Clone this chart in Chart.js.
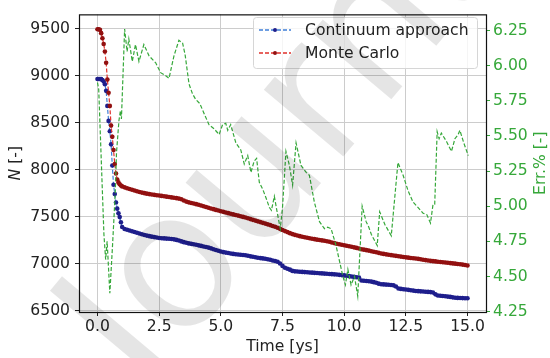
<!DOCTYPE html>
<html>
<head>
<meta charset="utf-8">
<script src="https://cdn.jsdelivr.net/npm/chart.js@4.4.0/dist/chart.umd.min.js"></script>
<style>
    body { margin: 0; background: #fff; }
    canvas { display: block; }
</style>
</head>
<body>
<canvas id="grafico" width="550" height="358"></canvas>
<script>
// -------------------------------
// Datos
// -------------------------------
const tiempo = [
    0, 0.05, 0.1, 0.15, 0.2, 0.25, 0.3, 0.35, 0.4, 0.45,
    0.5, 0.55, 0.6, 0.65, 0.7, 0.75, 0.8, 0.85, 0.9, 0.95, 1.0,
    1.1, 1.2, 1.3, 1.4, 1.5, 1.6, 1.7, 1.8, 1.9, 2.0,
    2.1, 2.2, 2.3, 2.4, 2.5, 2.6, 2.7, 2.8, 2.9, 3.0,
    3.1, 3.2, 3.3, 3.4, 3.5, 3.6, 3.7, 3.8, 3.9, 4.0,
    4.1, 4.2, 4.3, 4.4, 4.5, 4.6, 4.7, 4.8, 4.9, 5.0,
    5.1, 5.2, 5.3, 5.4, 5.5, 5.6, 5.7, 5.8, 5.9, 6.0,
    6.1, 6.2, 6.3, 6.4, 6.5, 6.6, 6.7, 6.8, 6.9, 7.0,
    7.1, 7.2, 7.3, 7.4, 7.5, 7.6, 7.7, 7.8, 7.9, 8.0,
    8.1, 8.2, 8.3, 8.4, 8.5, 8.6, 8.7, 8.8, 8.9, 9.0,
    9.1, 9.2, 9.3, 9.4, 9.5, 9.6, 9.7, 9.8, 9.9, 10.0,
    10.1, 10.2, 10.3, 10.4, 10.5, 10.6, 10.7, 10.8, 10.9, 11.0,
    11.1, 11.2, 11.3, 11.4, 11.5, 11.6, 11.7, 11.8, 11.9, 12.0,
    12.1, 12.2, 12.3, 12.4, 12.5, 12.6, 12.7, 12.8, 12.9, 13.0,
    13.1, 13.2, 13.3, 13.4, 13.5, 13.6, 13.7, 13.8, 13.9, 14.0,
    14.1, 14.2, 14.3, 14.4, 14.5, 14.6, 14.7, 14.8, 14.9, 15.0
];

const continuo = [
    8966, 8966, 8966, 8965, 8955, 8940, 8910, 8840, 8680, 8520,
    8410, 8270, 8045, 7840, 7740, 7650, 7585, 7535, 7495, 7440, 7390,
    7368, 7360, 7352, 7344, 7336, 7328, 7320, 7312, 7305, 7298,
    7292, 7287, 7282, 7277, 7273, 7270, 7268, 7266, 7264, 7262,
    7258, 7252, 7245, 7236, 7228, 7221, 7215, 7210, 7205, 7200,
    7194, 7188, 7182, 7176, 7170, 7162, 7153, 7144, 7136, 7128,
    7122, 7117, 7112, 7107, 7103, 7100, 7097, 7094, 7091, 7088,
    7083, 7077, 7072, 7067, 7062, 7058, 7055, 7052, 7046, 7040,
    7033, 7028, 7020, 7000, 6975, 6955, 6945, 6935, 6922, 6917,
    6915, 6913, 6911, 6909, 6907, 6905, 6903, 6901, 6899, 6897,
    6895, 6893, 6891, 6889, 6887, 6885, 6883, 6880, 6877, 6874,
    6870, 6866, 6862, 6858, 6855, 6852, 6820, 6817, 6814, 6811,
    6808, 6802, 6795, 6786, 6780, 6778, 6776, 6774, 6772, 6768,
    6755, 6735, 6730, 6727, 6724, 6720, 6716, 6712, 6708, 6706,
    6704, 6702, 6700, 6698, 6696, 6692, 6672, 6660, 6657, 6654,
    6651, 6648, 6645, 6640, 6636, 6634, 6633, 6632, 6631, 6630
];

const monteCarlo = [
    9497, 9497, 9490, 9455, 9400, 9340, 9260, 9140, 8960, 8820,
    8680, 8470, 8350, 8210, 8060, 7960, 7895, 7865, 7845, 7832, 7822,
    7812, 7803, 7795, 7786, 7778, 7770, 7762, 7756, 7750, 7745,
    7740, 7736, 7732, 7728, 7725, 7721, 7717, 7713, 7709, 7705,
    7701, 7697, 7692, 7685, 7672, 7660, 7652, 7646, 7640, 7633,
    7626, 7618, 7610, 7602, 7595, 7587, 7580, 7572, 7565, 7558,
    7551, 7544, 7537, 7531, 7524, 7518, 7511, 7504, 7497, 7490,
    7482, 7474, 7466, 7458, 7450, 7442, 7434, 7426, 7418, 7410,
    7401, 7392, 7382, 7370, 7358, 7346, 7335, 7324, 7314, 7306,
    7299, 7292, 7286, 7280, 7275, 7270, 7265, 7260, 7255, 7251,
    7247, 7243, 7238, 7232, 7225, 7218, 7211, 7205, 7200, 7195,
    7190, 7185, 7179, 7173, 7167, 7160, 7153, 7148, 7143, 7138,
    7132, 7126, 7120, 7114, 7108, 7103, 7098, 7094, 7090, 7086,
    7082, 7078, 7074, 7070, 7066, 7063, 7060, 7057, 7054, 7050,
    7046, 7041, 7037, 7033, 7029, 7026, 7023, 7020, 7017, 7014,
    7011, 7008, 7005, 7002, 6999, 6996, 6993, 6989, 6985, 6979
];

const tiempoErr = [
    0, 0.05, 0.26, 0.33, 0.39, 0.45, 0.5, 0.6, 0.66, 0.72,
    0.77, 0.87, 0.93, 0.97, 1.1, 1.2, 1.27, 1.41, 1.54, 1.68,
    1.88, 2.09, 2.36, 2.56, 2.75, 2.9, 3.1, 3.3, 3.45, 3.55,
    3.71, 3.85, 3.98, 4.15, 4.32, 4.52, 4.73, 4.93, 5.07, 5.2,
    5.28, 5.4, 5.61, 5.81, 5.95, 6.09, 6.22, 6.35, 6.45, 6.56,
    6.7, 6.83, 6.97, 7.05, 7.17, 7.27, 7.41, 7.5, 7.64, 7.78,
    7.91, 8.05, 8.25, 8.46, 8.59, 8.79, 9.0, 9.2, 9.33, 9.47,
    9.67, 9.95, 10.05, 10.15, 10.28, 10.42, 10.55, 10.73, 10.89, 11.0,
    11.1, 11.34, 11.44, 11.65, 11.91, 12.18, 12.39, 12.59, 12.79, 13.0,
    13.2, 13.35, 13.5, 13.6, 13.67, 13.77, 13.85, 13.94, 14.15, 14.35,
    14.49, 14.62, 14.69, 14.85, 15.03
];

const errorPct = [
    5.88, 5.83, 4.80, 4.62, 4.75, 4.55, 4.38, 4.69, 4.89, 5.10,
    5.38, 5.61, 5.68, 5.62, 6.26, 6.10, 6.19, 6.03, 6.15, 6.03,
    6.15, 6.07, 6.02, 5.95, 5.93, 5.91, 6.07, 6.18, 6.16, 6.08,
    5.87, 5.80, 5.76, 5.73, 5.66, 5.58, 5.55, 5.51, 5.58, 5.59,
    5.54, 5.58, 5.45, 5.40, 5.30, 5.36, 5.24, 5.32, 5.34, 5.17,
    5.12, 5.06, 4.99, 4.97, 5.07, 4.97, 4.84, 4.99, 5.39, 5.29,
    5.15, 5.45, 5.29, 5.24, 5.22, 5.03, 4.89, 4.84, 4.85, 4.84,
    4.72, 4.50, 4.44, 4.55, 4.44, 4.50, 4.36, 5.00, 4.89, 4.85,
    4.80, 4.72, 4.96, 4.87, 4.79, 5.31, 5.22, 5.11, 5.03, 4.99,
    4.95, 4.94, 4.88, 5.01, 5.01, 5.53, 5.48, 5.52, 5.46, 5.39,
    5.48, 5.51, 5.54, 5.45, 5.36
];

const ticksX = [0, 2.5, 5, 7.5, 10, 12.5, 15];
const ticksN = [6500, 7000, 7500, 8000, 8500, 9000, 9500];
const ticksErr = [4.25, 4.5, 4.75, 5, 5.25, 5.5, 5.75, 6, 6.25];
const nombres = ["Continuum approach", "Monte Carlo"];

// -------------------------------
// Estilo
// -------------------------------
const FUENTE = '"DejaVu Sans", sans-serif';
const TAM = 15.6;
const VERDE = "#36a83a";
const AZUL_LINEA = "#3f7fd8";
const AZUL_PUNTO = "#1e1e8c";
const ROJO_LINEA = "#e0302a";
const ROJO_PUNTO = "#921010";
const GRIS = "#cccccc";

function puntos(xs, ys) {
    return xs.map((t, i) => ({ x: t, y: ys[i] }));
}

// marco negro alrededor del area
const marco = {
    id: "marco",
    afterDatasetsDraw(chart) {
        const { ctx, chartArea: a } = chart;
        ctx.save();
        ctx.strokeStyle = "#111";
        ctx.lineWidth = 1.2;
        ctx.strokeRect(a.left + 0.5, a.top + 0.5, a.right - a.left, a.bottom - a.top);
        ctx.restore();
    }
};

// leyenda propia (linea discontinua + punto)
const leyenda = {
    id: "leyenda",
    afterDraw(chart) {
        const { ctx } = chart;
        const colores = [[AZUL_LINEA, AZUL_PUNTO], [ROJO_LINEA, ROJO_PUNTO]];
        ctx.save();
        ctx.beginPath();
        ctx.roundRect(253.5, 17.5, 224, 51, 3);
        ctx.fillStyle = "rgba(255,255,255,0.8)";
        ctx.fill();
        ctx.strokeStyle = "#d6d6d6";
        ctx.lineWidth = 1;
        ctx.stroke();

        nombres.forEach((nombre, i) => {
            const y = 30 + i * 23;
            ctx.strokeStyle = colores[i][0];
            ctx.lineWidth = 1.3;
            ctx.setLineDash([4, 2]);
            ctx.beginPath();
            ctx.moveTo(259, y);
            ctx.lineTo(291, y);
            ctx.stroke();
            ctx.setLineDash([]);
            ctx.fillStyle = colores[i][1];
            ctx.beginPath();
            ctx.arc(275, y, 2, 0, Math.PI * 2);
            ctx.fill();
            ctx.fillStyle = "#222";
            ctx.font = `${TAM}px ${FUENTE}`;
            ctx.textAlign = "left";
            ctx.textBaseline = "middle";
            ctx.fillText(nombre, 305, y + 1);
        });
        ctx.restore();
    }
};

// titulos de los ejes
const titulos = {
    id: "titulos",
    afterDraw(chart) {
        const { ctx, chartArea: a } = chart;
        const medioY = (a.top + a.bottom) / 2;
        ctx.save();
        ctx.textBaseline = "middle";
        ctx.fillStyle = "#222";
        ctx.font = `${TAM}px ${FUENTE}`;
        ctx.textAlign = "center";
        ctx.fillText("Time [ys]", (a.left + a.right) / 2, 347);

        // N [-] con la N en cursiva
        ctx.save();
        ctx.translate(16, medioY);
        ctx.rotate(-Math.PI / 2);
        ctx.font = `italic ${TAM}px ${FUENTE}`;
        const anchoN = ctx.measureText("N").width;
        ctx.font = `${TAM}px ${FUENTE}`;
        const anchoResto = ctx.measureText(" [-]").width;
        const x0 = -(anchoN + anchoResto) / 2;
        ctx.textAlign = "left";
        ctx.font = `italic ${TAM}px ${FUENTE}`;
        ctx.fillText("N", x0, 0);
        ctx.font = `${TAM}px ${FUENTE}`;
        ctx.fillText(" [-]", x0 + anchoN, 0);
        ctx.restore();

        // Err.% [-]
        ctx.save();
        ctx.translate(541, medioY);
        ctx.rotate(-Math.PI / 2);
        ctx.fillStyle = VERDE;
        ctx.font = `${TAM}px ${FUENTE}`;
        ctx.textAlign = "center";
        ctx.fillText("Err.% [-]", 0, 0);
        ctx.restore();
        ctx.restore();
    }
};

// marca de agua gris
const marcaAgua = {
    id: "marcaAgua",
    afterDraw(chart) {
        const { ctx } = chart;
        ctx.save();
        ctx.translate(144, 394);
        ctx.rotate(-50 * Math.PI / 180);
        ctx.font = `190px ${FUENTE}`;
        ctx.fillStyle = "rgba(0,0,0,0.10)";
        ctx.textAlign = "left";
        ctx.textBaseline = "alphabetic";
        ctx.fillText("Journal Pre-proof", 0, 0);
        ctx.restore();
    }
};

function ejeFijo(lista) {
    return s => { s.ticks = lista.map(v => ({ value: v })); };
}

// -------------------------------
// Grafico
// -------------------------------
const ctx = document.getElementById("grafico").getContext("2d");

new Chart(ctx, {
    type: "line",
    data: {
        datasets: [
            {
                label: "Err",
                data: puntos(tiempoErr, errorPct),
                yAxisID: "y2",
                borderColor: VERDE,
                borderWidth: 1.2,
                borderDash: [4, 2],
                pointRadius: 0,
                tension: 0,
                order: 1
            },
            {
                label: nombres[1],
                data: puntos(tiempo, monteCarlo),
                yAxisID: "y",
                borderColor: ROJO_LINEA,
                borderWidth: 1.2,
                borderDash: [4, 2],
                pointRadius: 2.3,
                pointBorderWidth: 0,
                pointBackgroundColor: ROJO_PUNTO,
                pointBorderColor: ROJO_PUNTO,
                order: 2
            },
            {
                label: nombres[0],
                data: puntos(tiempo, continuo),
                yAxisID: "y",
                borderColor: AZUL_LINEA,
                borderWidth: 1.2,
                borderDash: [4, 2],
                pointRadius: 2.3,
                pointBorderWidth: 0,
                pointBackgroundColor: AZUL_PUNTO,
                pointBorderColor: AZUL_PUNTO,
                order: 3
            }
        ]
    },
    options: {
        responsive: false,
        animation: false,
        devicePixelRatio: 1,
        layout: { padding: { top: 7, left: 0, right: 0, bottom: 0 } },
        scales: {
            x: {
                type: "linear",
                min: -0.75,
                max: 15.75,
                afterBuildTicks: ejeFijo(ticksX),
                afterFit: s => { s.height = 46; },
                grid: { color: GRIS, tickColor: "#222", tickLength: 4 },
                border: { display: false },
                ticks: {
                    color: "#222",
                    font: { family: FUENTE, size: TAM },
                    padding: 2,
                    maxRotation: 0,
                    autoSkip: false,
                    callback: v => v.toFixed(1)
                }
            },
            y: {
                position: "left",
                min: 6484,
                max: 9655,
                afterBuildTicks: ejeFijo(ticksN),
                afterFit: s => { s.width = 79; },
                grid: { color: GRIS, tickColor: "#222", tickLength: 4 },
                border: { display: false },
                ticks: {
                    color: "#222",
                    font: { family: FUENTE, size: TAM },
                    padding: 5,
                    autoSkip: false,
                    callback: v => String(v)
                }
            },
            y2: {
                position: "right",
                min: 4.247,
                max: 6.365,
                afterBuildTicks: ejeFijo(ticksErr),
                afterFit: s => { s.width = 64; },
                grid: { drawOnChartArea: false, tickColor: VERDE, tickLength: 4 },
                border: { display: false },
                ticks: {
                    color: VERDE,
                    font: { family: FUENTE, size: TAM },
                    padding: 3,
                    autoSkip: false,
                    callback: v => v.toFixed(2)
                }
            }
        },
        plugins: {
            legend: { display: false },
            tooltip: { enabled: false }
        }
    },
    plugins: [marco, titulos, leyenda, marcaAgua]
});
</script>
</body>
</html>
